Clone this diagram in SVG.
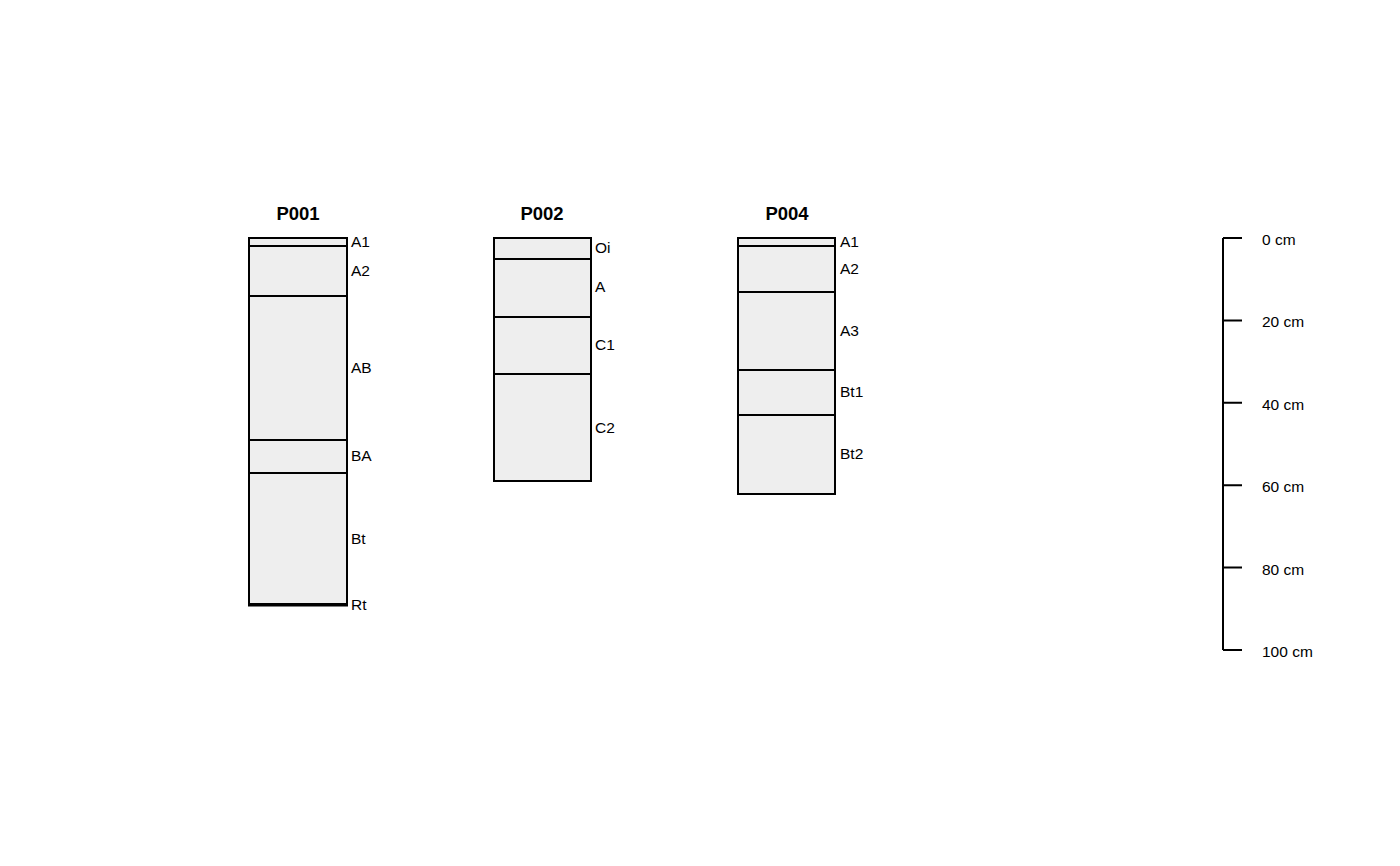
<svg xmlns="http://www.w3.org/2000/svg" width="1400" height="866" viewBox="0 0 1400 866">
<style>
.h{fill:#eeeeee;stroke:#000;stroke-width:2}
.t{font-family:"Liberation Sans",Arial,sans-serif;font-size:18.5px;font-weight:bold;text-anchor:middle}
.l{font-family:"Liberation Sans",Arial,sans-serif;font-size:15.5px;dominant-baseline:central}
.ax{stroke:#000;stroke-width:2;fill:none}
</style>
<rect width="1400" height="866" fill="#fff"/>
<g id="P001">
<text class="t" x="298" y="220">P001</text>
<rect class="h" x="249" y="238" width="98" height="8"/>
<rect class="h" x="249" y="246" width="98" height="50"/>
<rect class="h" x="249" y="296" width="98" height="144"/>
<rect class="h" x="249" y="440" width="98" height="33"/>
<rect class="h" x="249" y="473" width="98" height="131"/>
<rect class="h" x="249" y="604" width="98" height="1.5"/>
<text class="l" x="351" y="241">A1</text>
<text class="l" x="351" y="270">A2</text>
<text class="l" x="351" y="367">AB</text>
<text class="l" x="351" y="455">BA</text>
<text class="l" x="351" y="538">Bt</text>
<text class="l" x="351" y="604">Rt</text>
</g>
<g id="P002">
<text class="t" x="542" y="220">P002</text>
<rect class="h" x="494" y="238" width="97" height="21"/>
<rect class="h" x="494" y="259" width="97" height="58"/>
<rect class="h" x="494" y="317" width="97" height="57"/>
<rect class="h" x="494" y="374" width="97" height="107"/>
<text class="l" x="595" y="247">Oi</text>
<text class="l" x="595" y="286">A</text>
<text class="l" x="595" y="344">C1</text>
<text class="l" x="595" y="427">C2</text>
</g>
<g id="P004">
<text class="t" x="787" y="220">P004</text>
<rect class="h" x="738" y="238" width="97" height="8"/>
<rect class="h" x="738" y="246" width="97" height="46"/>
<rect class="h" x="738" y="292" width="97" height="78"/>
<rect class="h" x="738" y="370" width="97" height="45"/>
<rect class="h" x="738" y="415" width="97" height="79"/>
<text class="l" x="840" y="241">A1</text>
<text class="l" x="840" y="268">A2</text>
<text class="l" x="840" y="330">A3</text>
<text class="l" x="840" y="391">Bt1</text>
<text class="l" x="840" y="453">Bt2</text>
</g>
<g id="axis">
<path class="ax" d="M1223 238V650M1223 238H1242M1223 320.4H1242M1223 402.8H1242M1223 485.2H1242M1223 567.6H1242M1223 650H1242"/>
<text class="l" x="1262" y="239">0 cm</text>
<text class="l" x="1262" y="321">20 cm</text>
<text class="l" x="1262" y="404">40 cm</text>
<text class="l" x="1262" y="486">60 cm</text>
<text class="l" x="1262" y="569">80 cm</text>
<text class="l" x="1262" y="651">100 cm</text>
</g>
</svg>
